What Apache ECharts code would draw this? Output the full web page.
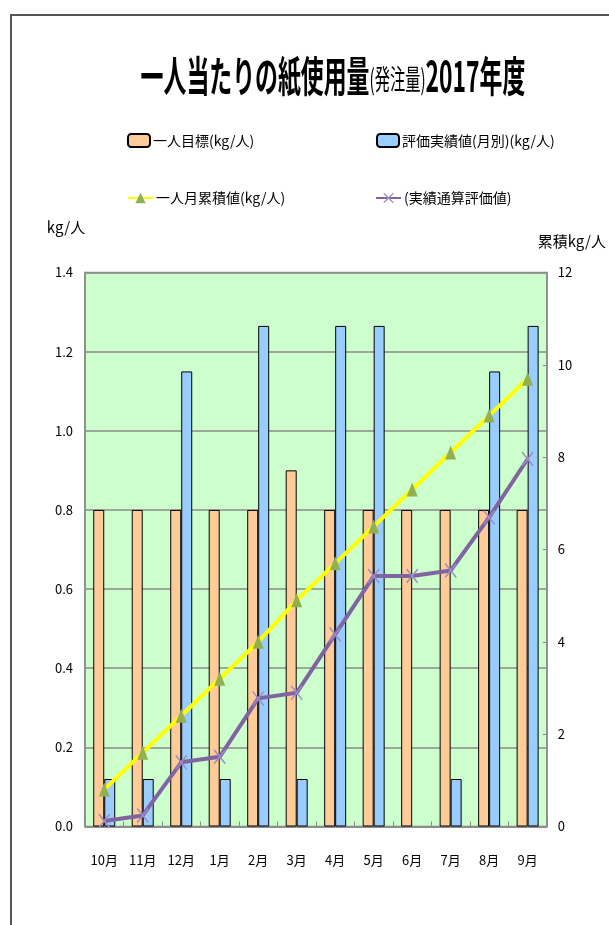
<!DOCTYPE html>
<html>
<head>
<meta charset="utf-8">
<script src="https://cdn.jsdelivr.net/npm/echarts@6/dist/echarts.min.js"></script>
<style>
  html, body { margin: 0; padding: 0; background: #fff; }
  #main { width: 609px; height: 925px; }
</style>
</head>
<body>
<div id="main"></div>
<script>
// 月別データ
var months = ['10月', '11月', '12月', '1月', '2月', '3月', '4月', '5月', '6月', '7月', '8月', '9月'];
var targetPerPerson = [0.8, 0.8, 0.8, 0.8, 0.8, 0.9, 0.8, 0.8, 0.8, 0.8, 0.8, 0.8];
var actualMonthly = [0.12, 0.12, 1.15, 0.12, 1.265, 0.12, 1.265, 1.265, null, 0.12, 1.15, 1.265];
var cumulativeTarget = [0.8, 1.6, 2.4, 3.2, 4.0, 4.9, 5.7, 6.5, 7.3, 8.1, 8.9, 9.7];
var cumulativeActual = [0.12, 0.24, 1.39, 1.51, 2.775, 2.895, 4.16, 5.425, 5.425, 5.545, 6.695, 7.96];

var leftTicks = [0, 0.2, 0.4, 0.6, 0.8, 1.0, 1.2, 1.4];
var rightTicks = [0, 2, 4, 6, 8, 10, 12];

var FONT = '"Noto Sans CJK JP", "Noto Sans", sans-serif';
var GRID_GREY = '#8a8a8a';
var xMark = 'path://M0,0.8L0.8,0L10,9.2L9.2,10ZM9.2,0L10,0.8L0.8,10L0,9.2Z';

var chart = echarts.init(document.getElementById('main'));

// 凡例は2x2に並べるので1項目ずつ置く
function legendAt(name, left, top, w) {
  return {
    data: [name],
    left: left,
    top: top,
    padding: 0,
    itemWidth: w,
    itemHeight: 13,
    itemGap: 3,
    selectedMode: false,
    textStyle: { fontFamily: FONT, fontSize: 14, color: '#000', padding: [0, 0, 0, -2] }
  };
}

var option = {
  backgroundColor: '#fff',
  animation: false,
  graphic: [
    {
      type: 'rect',
      shape: { x: 11, y: 15, width: 700, height: 1000 },
      style: { fill: 'none', stroke: '#555', lineWidth: 2 },
      silent: true
    },
    {
      type: 'text',
      x: 333,
      y: 76,
      scaleX: 0.545,
      style: {
        text: '{a|一人当たりの紙使用量}{b|(発注量)}{a|2017年度}',
        align: 'center',
        verticalAlign: 'middle',
        fill: '#000',
        rich: {
          a: { fontFamily: FONT, fontSize: 42, fontWeight: 'bold', fill: '#000' },
          b: { fontFamily: FONT, fontSize: 28, fill: '#000', padding: [6, 0, 0, 0] }
        }
      }
    }
  ],
  legend: [
    legendAt('一人目標(kg/人)', 127, 133, 22),
    legendAt('評価実績値(月別)(kg/人)', 376, 133, 22),
    legendAt('一人月累積値(kg/人)', 127, 191, 25),
    legendAt('(実績通算評価値)', 375, 191, 25)
  ],
  grid: {
    left: 85,
    right: 62,
    top: 272.5,
    bottom: 98.5,
    show: true,
    backgroundColor: '#CCFFCC',
    borderColor: GRID_GREY,
    borderWidth: 1.5
  },
  xAxis: {
    type: 'category',
    data: months,
    axisLine: { lineStyle: { color: GRID_GREY, width: 1.5 } },
    axisTick: { show: true, inside: true, length: 5, lineStyle: { color: GRID_GREY } },
    axisLabel: { fontFamily: FONT, fontSize: 13, color: '#000', margin: 27 }
  },
  yAxis: [
    {
      type: 'value',
      min: leftTicks[0],
      max: leftTicks[leftTicks.length - 1],
      interval: 0.2,
      name: 'kg/人',
      nameLocation: 'end',
      nameGap: 38,
      nameTextStyle: { fontFamily: FONT, fontSize: 15, color: '#000', padding: [0, 38, 0, 0] },
      axisLine: { show: true, lineStyle: { color: GRID_GREY, width: 1.5 } },
      axisTick: { show: false },
      axisLabel: {
        fontFamily: FONT, fontSize: 13, color: '#000', margin: 12,
        formatter: function (v) { return v.toFixed(1); }
      },
      splitLine: { show: true, lineStyle: { color: GRID_GREY, width: 1.5 } }
    },
    {
      type: 'value',
      position: 'right',
      min: rightTicks[0],
      max: rightTicks[rightTicks.length - 1],
      interval: 2,
      name: '累積kg/人',
      nameLocation: 'end',
      nameGap: 24,
      nameTextStyle: { fontFamily: FONT, fontSize: 15, color: '#000', padding: [0, 0, 0, 50] },
      axisLine: { show: true, lineStyle: { color: GRID_GREY, width: 1.5 } },
      axisTick: { show: true, inside: true, length: 4, lineStyle: { color: GRID_GREY } },
      axisLabel: { fontFamily: FONT, fontSize: 13, color: '#000', margin: 11 },
      splitLine: { show: false }
    }
  ],
  series: [
    {
      name: '一人目標(kg/人)',
      type: 'bar',
      yAxisIndex: 0,
      data: targetPerPerson,
      barWidth: 11,
      barGap: '0%',
      itemStyle: { color: '#FFCC99', borderColor: '#000', borderWidth: 1 }
    },
    {
      name: '評価実績値(月別)(kg/人)',
      type: 'bar',
      yAxisIndex: 0,
      data: actualMonthly,
      barWidth: 11,
      barGap: '0%',
      itemStyle: { color: '#99CCFF', borderColor: '#000', borderWidth: 1 }
    },
    {
      name: '一人月累積値(kg/人)',
      type: 'line',
      yAxisIndex: 1,
      data: cumulativeTarget,
      symbol: 'triangle',
      symbolSize: [11, 14],
      showAllSymbol: true,
      lineStyle: { color: '#FFFF00', width: 4 },
      itemStyle: { color: '#92B050' }
    },
    {
      name: '(実績通算評価値)',
      type: 'line',
      yAxisIndex: 1,
      data: cumulativeActual,
      symbol: xMark,
      symbolSize: [12, 15],
      showAllSymbol: true,
      lineStyle: { color: '#8064A2', width: 4 },
      itemStyle: { color: '#9D8CC4' }
    }
  ]
};

chart.setOption(option);
</script>
</body>
</html>
